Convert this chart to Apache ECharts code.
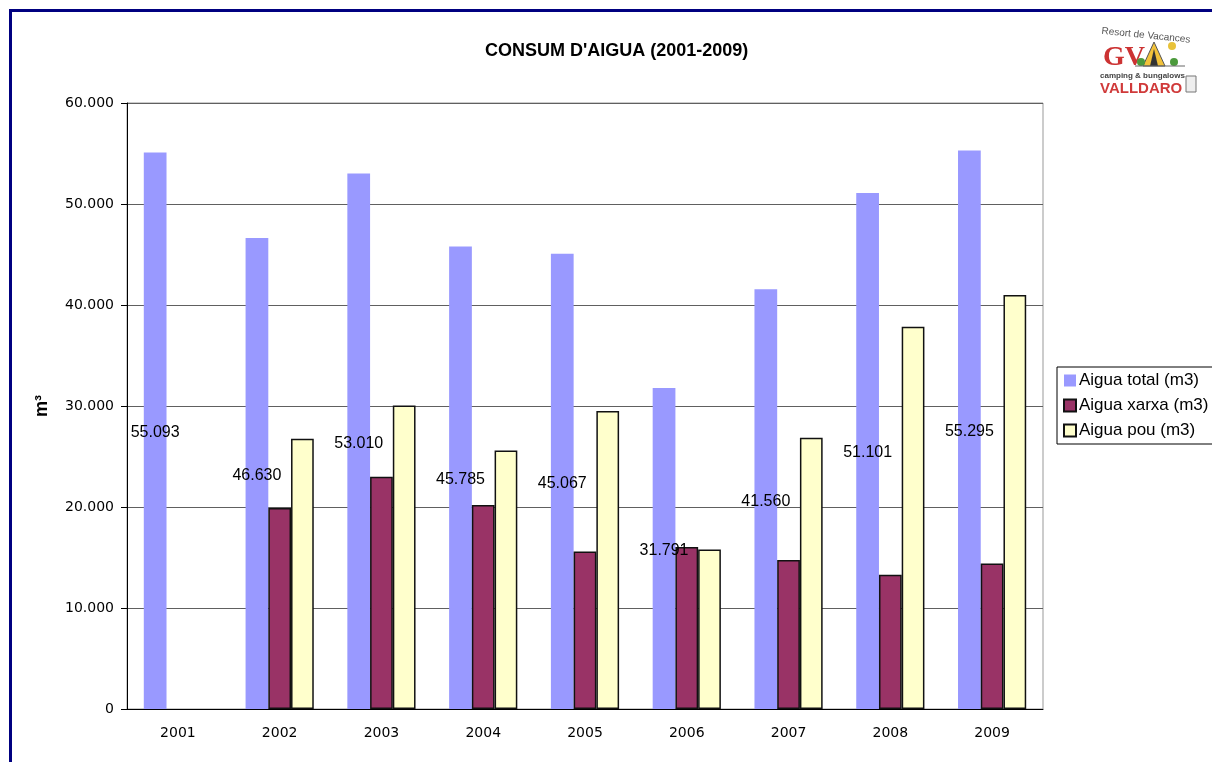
<!DOCTYPE html>
<html lang="ca">
<head>
    <meta charset="UTF-8">
    <title>Consum d'aigua</title>
    <style>
        html,body{margin:0;padding:0;background:#fff;}
        #main{width:1212px;height:762px;}
    </style>
</head>
<body>
<div id="main"></div>
<script src="https://cdn.jsdelivr.net/npm/echarts@6/dist/echarts.min.js"></script>
<script>
    const years = ['2001','2002','2003','2004','2005','2006','2007','2008','2009'];
    const aiguaTotal = [55093, 46630, 53010, 45785, 45067, 31791, 41560, 51101, 55295];
    const aiguaXarxa = [null, 19900, 23000, 20200, 15600, 16050, 14750, 13300, 14400];
    const aiguaPou = [null, 26750, 30050, 25600, 29500, 15800, 26850, 37850, 41000];
    const seriesNames = ['Aigua total (m3)', 'Aigua xarxa (m3)', 'Aigua pou (m3)'];

    // separador de milers amb punt
    function fmt(v){
        return String(v).replace(/\B(?=(\d{3})+(?!\d))/g, '.');
    }

    const myChart = echarts.init(document.getElementById('main'));

    const axisFont = {fontFamily:'DejaVu Sans', fontSize:14, color:'#000'};

    const option = {
        animation:false,
        backgroundColor:'#fff',
        title:{
            text:"CONSUM D'AIGUA (2001-2009)",
            left:480,
            top:37,
            textStyle:{fontFamily:'Liberation Sans', fontWeight:'bold', fontSize:18, color:'#000'}
        },
        legend:{
            orient:'vertical',
            left:1057,
            top:367,
            padding:[5,6,5,6],
            itemGap:8,
            itemWidth:12,
            itemHeight:12,
            borderColor:'#000',
            borderWidth:1,
            icon:'rect',
            textStyle:{fontFamily:'Liberation Sans', fontSize:17, color:'#000', padding:[0,0,0,-2]},
            data:seriesNames
        },
        grid:{
            left:127,
            right:169,
            top:103,
            bottom:53,
            show:true,
            borderColor:'#999',
            borderWidth:1
        },
        xAxis:{
            type:'category',
            data:years,
            axisLine:{lineStyle:{color:'#000', width:1}},
            axisTick:{length:6, lineStyle:{color:'#000'}},
            axisLabel:Object.assign({margin:17}, axisFont)
        },
        yAxis:{
            type:'value',
            min:0,
            max:60000,
            interval:10000,
            name:'m³',
            nameLocation:'middle',
            nameRotate:90,
            nameGap:76,
            nameTextStyle:{fontFamily:'Liberation Sans', fontWeight:'bold', fontSize:18, color:'#000'},
            axisLine:{show:true, lineStyle:{color:'#000', width:1}},
            axisTick:{show:true, length:6, lineStyle:{color:'#000'}},
            axisLabel:Object.assign({margin:13, formatter:v=>fmt(v)}, axisFont),
            splitLine:{lineStyle:{color:'#606060', width:1}}
        },
        series:[
            {
                name:seriesNames[0],
                type:'bar',
                data:aiguaTotal,
                barGap:'0%',
                barCategoryGap:'33%',
                itemStyle:{color:'#9999FF'},
                label:{
                    show:true,
                    position:'inside',
                    color:'#000',
                    fontFamily:'Liberation Sans',
                    fontSize:16,
                    offset:[0,2],
                    formatter:p=>fmt(p.value)
                },
                z:2
            },
            {
                name:seriesNames[1],
                type:'bar',
                data:aiguaXarxa,
                barGap:'0%',
                barCategoryGap:'33%',
                itemStyle:{color:'#993366', borderColor:'#111', borderWidth:1.5},
                z:2
            },
            {
                name:seriesNames[2],
                type:'bar',
                data:aiguaPou,
                barGap:'0%',
                barCategoryGap:'33%',
                itemStyle:{color:'#FFFFCC', borderColor:'#111', borderWidth:1.5},
                z:2
            }
        ],
        graphic:[
            // marc blau
            {type:'rect', shape:{x:10.5, y:10.5, width:1300, height:900}, style:{fill:'none', stroke:'#000080', lineWidth:3}, silent:true},
            // logotip
            {type:'group', left:1100, top:26, silent:true, children:[
                {type:'text', x:5, y:2, rotation:-0.1, style:{text:'Resort de Vacances', fontFamily:'Liberation Sans', fontSize:10, fill:'#555'}},
                {type:'text', x:6, y:20, style:{text:'GV', fontFamily:'Liberation Serif', fontWeight:'bold', fontSize:28, fill:'#cc3333'}},
                {type:'polygon', shape:{points:[[57,18],[46,42],[68,42]]}, style:{fill:'#f2c23a', stroke:'#555', lineWidth:1}},
                {type:'polygon', shape:{points:[[57,25],[53,42],[61,42]]}, style:{fill:'#333'}},
                {type:'circle', shape:{cx:44, cy:38, r:4}, style:{fill:'#4c9a3c'}},
                {type:'circle', shape:{cx:77, cy:38, r:4}, style:{fill:'#4c9a3c'}},
                {type:'circle', shape:{cx:75, cy:22, r:4}, style:{fill:'#e8c23a'}},
                {type:'line', shape:{x1:38, y1:42, x2:88, y2:42}, style:{stroke:'#666', lineWidth:1}},
                {type:'text', x:3, y:48, style:{text:'camping & bungalows', fontFamily:'Liberation Sans', fontWeight:'bold', fontSize:8, fill:'#444'}},
                {type:'text', x:3, y:57, style:{text:'VALLDARO', fontFamily:'Liberation Sans', fontWeight:'bold', fontSize:15, fill:'#d03a3a'}},
                {type:'rect', shape:{x:89, y:52, width:10, height:16}, style:{fill:'#eee', stroke:'#777', lineWidth:1}}
            ]}
        ]
    };

    myChart.setOption(option);
</script>
</body>
</html>
